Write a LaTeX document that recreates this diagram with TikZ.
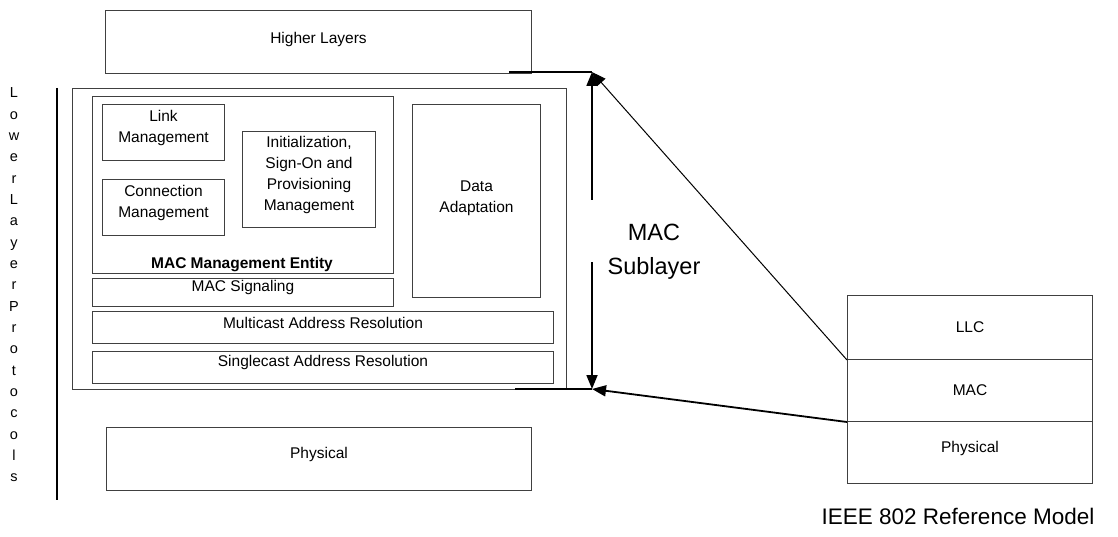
\documentclass[tikz,border=0pt]{standalone}
\usepackage{fontspec}
\setmainfont{Liberation Sans}
\usetikzlibrary{arrows.meta}
\begin{document}
\begin{tikzpicture}[x=1pt,y=-1pt,
  box/.style={draw=black!75, line width=1pt, inner sep=0pt, anchor=north west},
  txt/.style={font=\fontsize{15.5}{21}\selectfont, align=center, inner sep=0pt},
  arr/.style={-{Triangle[length=14pt,width=11pt]}, line width=1.8pt},
  thin arr/.style={-{Triangle[length=14pt,width=11pt]}, line width=1pt},
]
\useasboundingbox (0,0) rectangle (1118,537);
% higher layers
\node[box, minimum width=426pt, minimum height=63pt] (hl) at (105,10) {};
\node[txt] at ([yshift=3pt]hl.center) {Higher Layers};
% lower layer protocols
\node[font=\fontsize{14.5}{21.33}\selectfont, align=center, inner sep=0pt] (llp) at (14,285)
  {L\\o\\w\\e\\r\\L\\a\\y\\e\\r\\P\\r\\o\\t\\o\\c\\o\\l\\s};
\coordinate (vt) at (57,88); \coordinate (vb) at (57,500);
\draw[line width=1.6pt] (vt) -- (vb);
% outer MAC box
\node[box, minimum width=494pt, minimum height=301pt] (outer) at (72,88) {};
% management entity
\node[box, minimum width=301pt, minimum height=177pt] (mme) at (92,96) {};
\node[txt, font=\bfseries\fontsize{15.5}{21}\selectfont, anchor=base] at (242,268) {MAC Management Entity};
\node[box, minimum width=122pt, minimum height=56pt] (lm) at (102,104) {};
\node[txt] at ([yshift=5pt]lm.center) {Link\\Management};
\node[box, minimum width=122pt, minimum height=56pt] (cm) at (102,179) {};
\node[txt] at ([yshift=5pt]cm.center) {Connection\\Management};
\node[box, minimum width=133pt, minimum height=96pt] (ism) at (242,131) {};
\node[txt] at ([yshift=5pt]ism.center) {Initialization,\\Sign-On and\\Provisioning\\Management};
\node[box, minimum width=128pt, minimum height=193pt] (da) at (412,104) {};
\node[txt] at ([yshift=3pt]da.center) {Data\\Adaptation};
\node[box, minimum width=301pt, minimum height=28pt] (sig) at (92,278) {};
\node[txt] at ([yshift=5pt]sig.center) {MAC Signaling};
\node[box, minimum width=461pt, minimum height=32pt] (mar) at (92,311) {};
\node[txt] at ([yshift=5pt]mar.center) {Multicast Address Resolution};
\node[box, minimum width=461pt, minimum height=32pt] (sar) at (92,351) {};
\node[txt] at ([yshift=5pt]sar.center) {Singlecast Address Resolution};
% physical
\node[box, minimum width=425pt, minimum height=63pt] (phy) at (106,427) {};
\node[txt] at ([yshift=5pt]phy.center) {Physical};
% right stack
\node[box, minimum width=245pt, minimum height=64pt] (llc) at (847,295) {};
\node[txt] at (llc.center) {LLC};
\node[box, minimum width=245pt, minimum height=62pt] (mac) at (847,359) {};
\node[txt] at (mac.center) {MAC};
\node[box, minimum width=245pt, minimum height=62pt] (rphy) at (847,421) {};
\node[txt] at ([yshift=4pt]rphy.center) {Physical};
\node[font=\fontsize{22.5}{26}\selectfont, inner sep=0pt] (ieee) at (958,516) {IEEE 802 Reference Model};
% MAC sublayer span
\coordinate (tA) at (592,72);
\coordinate (bA) at (592,389);
\coordinate (gT) at (592,200);
\coordinate (gB) at (592,262);
\coordinate (hlT) at (509,72);
\coordinate (hlB) at (515,389);
\draw[line width=1.4pt] (hlT) -- (tA);
\draw[line width=1.4pt] (hlB) -- (bA);
\draw[arr] (gT) -- (tA);
\draw[arr] (gB) -- (bA);
\draw[thin arr] (llc.south west) -- (tA);
\draw[arr] (mac.south west) -- (bA);
\node[font=\fontsize{23.5}{34}\selectfont, align=center, inner sep=0pt] (sub) at (654,252) {MAC\\Sublayer};
\end{tikzpicture}
\end{document}
